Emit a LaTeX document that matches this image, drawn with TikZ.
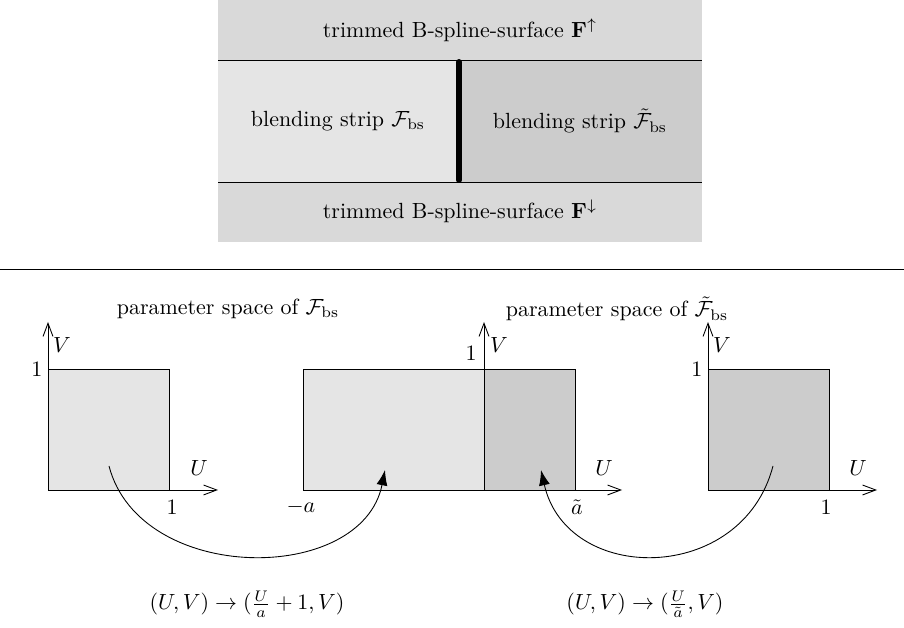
\documentclass[tikz,border=0pt]{standalone}
\usepackage{amsmath}
\usepackage{amssymb}
\usepackage{tikz}
\usetikzlibrary{positioning, arrows.meta}
\definecolor{surfgray}{gray}{0.85}
\definecolor{striplight}{gray}{0.9}
\definecolor{stripdark}{gray}{0.8}

\begin{document}
\begin{tikzpicture}[x=0.016cm, y=-0.016cm, every node/.style={align=center, inner sep=1pt},
    axis/.style={-{Straight Barb[length=6pt,width=4.5pt]}},
    maparrow/.style={-{Latex[length=7pt,width=5pt]}}]
    \useasboundingbox (0,0) rectangle (904,628);

    % surface with the two blending strips
    \fill[surfgray] (218,0) rectangle (702,242);
    \fill[striplight] (218,60) rectangle (459,182);
    \fill[stripdark] (459,60) rectangle (702,182);
    \draw (218,60) -- (702,60);
    \draw (218,182) -- (702,182);
    \draw[line width=2.7pt, line cap=round] (459,62) -- (459,180);

    \node (fup) at (460,30) {trimmed B-spline-surface $\mathbf{F}^{\uparrow}$};
    \node (bsl) at (338,121) {blending strip $\mathcal{F}_{\mathrm{bs}}$};
    \node (bsr) at (580,121) {blending strip $\tilde{\mathcal{F}}_{\mathrm{bs}}$};
    \node (fdown) at (460,211) {trimmed B-spline-surface $\mathbf{F}^{\downarrow}$};

    \draw (0,269) -- (904,269);

    % parameter space of F_bs
    \filldraw[fill=striplight] (48,369) rectangle (169,490);
    \draw[axis] (48,490) -- (48,322);
    \draw[axis] (169,490) -- (218,490);
    \node (ps1) at (228,309) {parameter space of $\mathcal{F}_{\mathrm{bs}}$};
    \node (v1) at (62,345) {$V$};
    \node (u1) at (199,468) {$U$};
    \node[left] (one1v) at (45,369) {$1$};
    \node (one1u) at (172,507) {$1$};

    % joined parameter space
    \filldraw[fill=striplight] (303,369) rectangle (484,490);
    \filldraw[fill=stripdark] (484,369) rectangle (575,490);
    \draw[axis] (484,490) -- (484,322);
    \draw[axis] (575,490) -- (622,490);
    \node (v2) at (499,345) {$V$};
    \node (u2) at (604,468) {$U$};
    \node (one2v) at (471,353) {$1$};
    \node (mina) at (301,507) {$-a$};
    \node (atil) at (577,507) {$\tilde{a}$};

    % parameter space of tilde F_bs
    \filldraw[fill=stripdark] (708,369) rectangle (829,490);
    \draw[axis] (708,490) -- (708,322);
    \draw[axis] (829,490) -- (877,490);
    \node (ps2) at (617,309) {parameter space of $\tilde{\mathcal{F}}_{\mathrm{bs}}$};
    \node (v3) at (722,345) {$V$};
    \node (u3) at (858,468) {$U$};
    \node[left] (one3v) at (705,369) {$1$};
    \node (one3u) at (826,507) {$1$};

    % maps
    \coordinate (src1) at (109,466);
    \coordinate (dst1) at (385,470);
    \coordinate (src2) at (773,466);
    \coordinate (dst2) at (541,470);
    \draw[maparrow] (src1) .. controls (140,585) and (362,585) .. (dst1);
    \draw[maparrow] (src2) .. controls (742,585) and (567,585) .. (dst2);

    \node (map1) at (247,604) {$(U,V)\rightarrow(\frac{U}{a}+1,V)$};
    \node (map2) at (645,604) {$(U,V)\rightarrow(\frac{U}{\tilde{a}},V)$};
  \end{tikzpicture}
\end{document}
